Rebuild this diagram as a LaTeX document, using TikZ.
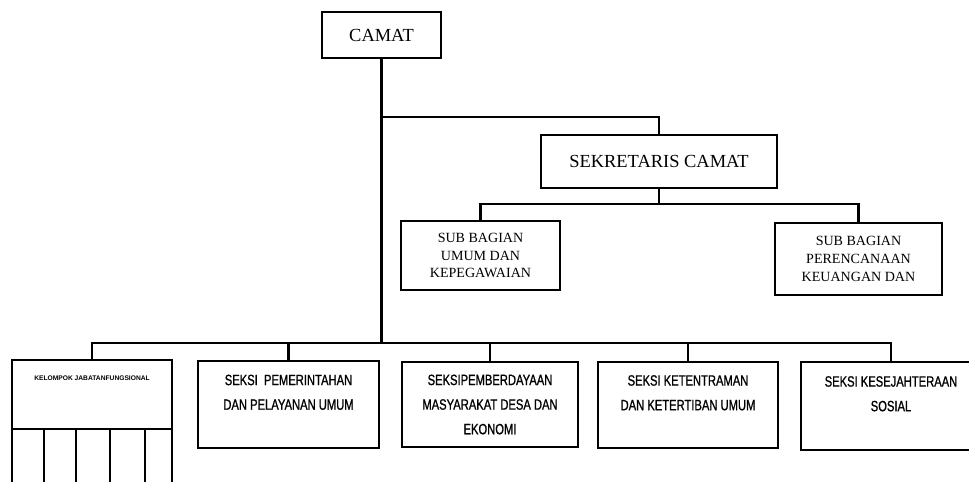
\documentclass[tikz,border=0pt]{standalone}
\usepackage{fontspec}
\setmainfont{Liberation Serif}
\newfontfamily\seksifont[FakeStretch=0.75,FakeBold=1]{Liberation Sans}
\newfontfamily\tinyfont{Liberation Sans}
\begin{document}
\begin{tikzpicture}[x=0.02cm,y=-0.02cm,line width=1.2pt,
  box/.style={draw, line width=1.2pt, inner sep=2pt, align=center},
  serifbox/.style={box, font=\fontsize{10.5}{12}\selectfont},
  subbox/.style={box, font=\fontsize{8}{10.2}\selectfont},
  seksibox/.style={box, font=\seksifont\fontsize{8.5}{14}\selectfont}]
\useasboundingbox (0,0) rectangle (969,481);
\clip (0,0) rectangle (969,481);

\node[serifbox, minimum width=2.38cm, minimum height=0.92cm] (camat) at (381.5,35) {CAMAT};
\node[serifbox, minimum width=4.72cm, minimum height=1.06cm] (sekcam) at (659,161.5) {SEKRETARIS CAMAT};

\node[subbox, minimum width=3.18cm, minimum height=1.38cm] (subumum) at (480.5,255.5) {SUB BAGIAN\\UMUM DAN\\KEPEGAWAIAN};
\node[subbox, minimum width=3.34cm, minimum height=1.44cm] (subrenc) at (858.5,259) {SUB BAGIAN\\PERENCANAAN\\KEUANGAN DAN};

\node[box, minimum width=3.2cm, minimum height=1.38cm] (kelompok) at (92,394.5) {};
\node[font=\tinyfont\bfseries\fontsize{3.8}{4.5}\selectfont, inner sep=0pt] (kelompoktxt) at (92,378) {KELOMPOK JABATANFUNGSIONAL};
\draw (12,429) rectangle (172,495);
\foreach \x in {44,76,110,145}
  \draw (\x,429) -- (\x,495);

\node[seksibox, minimum width=3.62cm, minimum height=1.74cm] (seksi1) at (288.5,404.5) {SEKSI~~PEMERINTAHAN\\DAN PELAYANAN UMUM\\\mbox{}};
\node[seksibox, minimum width=3.52cm, minimum height=1.70cm] (seksi2) at (490,404.5) {SEKSIPEMBERDAYAAN\\MASYARAKAT DESA DAN\\EKONOMI};
\node[seksibox, minimum width=3.6cm, minimum height=1.72cm] (seksi3) at (688,405) {SEKSI KETENTRAMAN\\DAN KETERTIBAN UMUM\\\mbox{}};
\node[seksibox, minimum width=3.6cm, minimum height=1.76cm] (seksi4) at (891,406) {SEKSI KESEJAHTERAAN\\SOSIAL\\\mbox{}};

\coordinate (j1) at (381.5,117);
\coordinate (bus) at (381.5,343);
\coordinate (j2) at (sekcam.south |- 0,204);

\draw (camat.south) -- (bus);
\draw (j1) -| (sekcam.north);
\draw (sekcam.south) -- (j2);
\draw (subumum.north) |- (j2) -| (subrenc.north);
\draw (kelompok.north) |- (bus) -| (seksi4.north);
\foreach \n in {seksi1,seksi2,seksi3}
  \draw (\n.north) -- (\n.north |- bus);
\end{tikzpicture}
\end{document}
